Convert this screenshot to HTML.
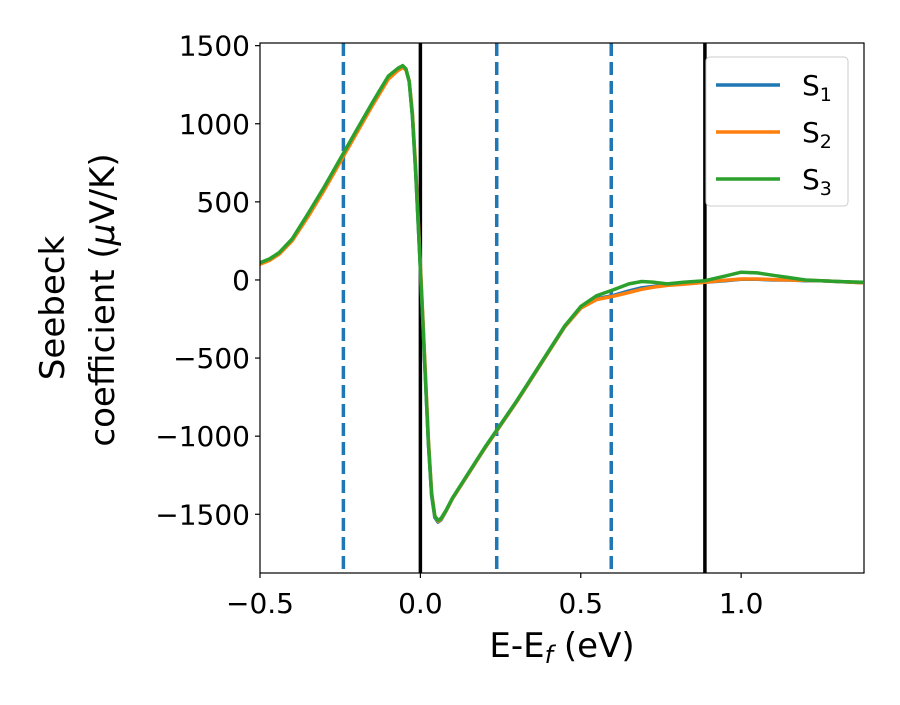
<!DOCTYPE html>
<html><head><meta charset="utf-8">
<style>
body{margin:0;background:#fff;}
svg text{font-family:"DejaVu Sans","Liberation Sans",sans-serif;fill:#000;}
</style></head>
<body>
<svg id="chart" width="900" height="700" viewBox="0 0 900 700" xmlns="http://www.w3.org/2000/svg">
<g id="plot"></g>
<g id="axes"></g>
</svg>
<script>
const xTicks=[-0.5,0.0,0.5,1.0];
const xTickLabels=["\u22120.5","0.0","0.5","1.0"];
const yTicks=[1500,1000,500,0,-500,-1000,-1500];
const yTickLabels=["1500","1000","500","0","\u2212500","\u22121000","\u22121500"];
const dashedLines=[-0.24,0.238,0.595];
const solidLines=[0.0,0.887];
const energy=[-0.5,-0.47,-0.44,-0.4,-0.35,-0.3,-0.25,-0.2,-0.15,-0.1,-0.07,-0.055,-0.045,-0.035,-0.025,-0.015,-0.005,0.005,0.015,0.025,0.035,0.045,0.055,0.065,0.08,0.1,0.15,0.2,0.24,0.3,0.35,0.4,0.45,0.5,0.55,0.6,0.65,0.69,0.73,0.77,0.82,0.887,0.95,1.0,1.05,1.1,1.15,1.2,1.25,1.3,1.38];
const s1=[105,130,170,260,420,590,770,950,1130,1300,1350,1370,1350,1270,1050,700,280,-150,-600,-1050,-1380,-1520,-1550,-1535,-1480,-1400,-1240,-1080,-960,-780,-620,-460,-300,-180,-120,-100,-70,-50,-40,-30,-25,-15,-5,5,5,0,0,-5,-5,-10,-18];
const s2=[100,125,165,250,405,575,755,935,1115,1285,1340,1360,1345,1275,1070,730,310,-120,-570,-1020,-1360,-1510,-1545,-1530,-1480,-1400,-1240,-1080,-960,-780,-620,-460,-300,-180,-125,-105,-80,-60,-45,-35,-28,-15,-2,6,6,2,0,-3,-5,-10,-18];
const s3=[110,135,175,262,425,595,775,955,1135,1305,1355,1372,1352,1270,1050,700,280,-150,-600,-1040,-1370,-1510,-1540,-1525,-1475,-1395,-1235,-1075,-955,-775,-615,-455,-295,-170,-100,-64,-25,-10,-15,-25,-15,-5,25,50,45,30,15,0,-5,-10,-15];
const L=260,R=864,T=43,B=573,xMin=-0.5,xMax=1.383,yMin=-1876,yMax=1517;
const sx=v=>L+(v-xMin)/(xMax-xMin)*(R-L);
const sy=v=>B-(v-yMin)/(yMax-yMin)*(B-T);
const NS="http://www.w3.org/2000/svg";
const plot=document.getElementById('plot'),axes=document.getElementById('axes');
function mk(tag,attrs,parent){const e=document.createElementNS(NS,tag);for(const k in attrs)e.setAttribute(k,attrs[k]);parent.appendChild(e);return e;}
const clip=mk('clipPath',{id:'cp'},plot);mk('rect',{x:L,y:T,width:R-L,height:B-T},clip);
const g=mk('g',{'clip-path':'url(#cp)'},plot);
dashedLines.forEach(v=>{const l=mk('line',{x1:sx(v),x2:sx(v),y1:T,y2:B,stroke:'#1f77b4','stroke-width':3.5,'stroke-dasharray':'13,6'},g);

});
solidLines.forEach(v=>{const l=mk('line',{x1:sx(v),x2:sx(v),y1:T,y2:B,stroke:'#000','stroke-width':3.5},g);

});
[[s1,'#1f77b4','series-s1'],[s2,'#ff7f0e','series-s2'],[s3,'#2ca02c','series-s3']].forEach(([s,c,n])=>{
const d=energy.map((x,i)=>(i?'L':'M')+sx(x).toFixed(1)+','+sy(s[i]).toFixed(1)).join(' ');
const p=mk('path',{d:d,fill:'none',stroke:c,'stroke-width':3.5,'stroke-linejoin':'round'},g);

});
mk('rect',{x:L,y:T,width:R-L,height:B-T,fill:'none',stroke:'#000','stroke-width':1.2},axes);
xTicks.forEach((v,i)=>{mk('line',{x1:sx(v),x2:sx(v),y1:B,y2:B+5,stroke:'#000','stroke-width':1.2},axes);
const t=mk('text',{x:sx(v),y:B+40,'text-anchor':'middle','font-size':28},axes);t.textContent=xTickLabels[i];

});
yTicks.forEach((v,i)=>{mk('line',{x1:L-5,x2:L,y1:sy(v),y2:sy(v),stroke:'#000','stroke-width':1.2},axes);
const t=mk('text',{x:L-10,y:sy(v)+10,'text-anchor':'end','font-size':28},axes);t.textContent=yTickLabels[i];

});
</script>
<svg style="position:absolute;left:0;top:0" width="900" height="700">
<text x="562" y="657" text-anchor="middle" font-size="34">E-E<tspan font-style="italic" font-size="24" dy="6">f</tspan><tspan dy="-6"> (eV)</tspan></text>
<text transform="translate(64,308) rotate(-90)" text-anchor="middle" font-size="34">Seebeck</text>
<text transform="translate(114,300) rotate(-90)" text-anchor="middle" font-size="34">coefficient  (<tspan font-style="italic">μ</tspan>V/K)</text>
<g>
<rect x="706" y="57" width="142" height="149" rx="4" fill="#fff" stroke="#ccc" stroke-width="1"/>
<line x1="716" x2="780" y1="85" y2="85" stroke="#1f77b4" stroke-width="3.5"/>
<text x="802" y="95" font-size="28">S<tspan font-size="19" dy="6">1</tspan></text>
<line x1="716" x2="780" y1="132" y2="132" stroke="#ff7f0e" stroke-width="3.5"/>
<text x="802" y="142" font-size="28">S<tspan font-size="19" dy="6">2</tspan></text>
<line x1="716" x2="780" y1="179" y2="179" stroke="#2ca02c" stroke-width="3.5"/>
<text x="802" y="189" font-size="28">S<tspan font-size="19" dy="6">3</tspan></text>
</g>
</svg>
</body></html>
